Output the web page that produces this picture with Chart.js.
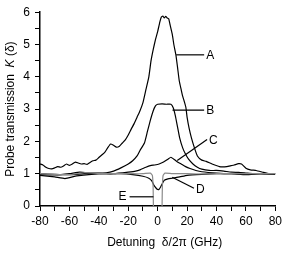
<!DOCTYPE html>
<html>
<head>
<meta charset="utf-8">
<script src="https://cdn.jsdelivr.net/npm/chart.js"></script>
<style>
    html, body { margin: 0; padding: 0; background: #fff; }
    canvas { display: block; }
</style>
</head>
<body>
<canvas id="chart" width="285" height="257"></canvas>
<script>
// Detuning (GHz) and transmission K for each trace
const aX = [-80, -78, -76, -74, -72, -70, -68, -66, -64, -62, -60, -58, -56, -54, -52, -50, -48, -46, -44, -42, -40, -38, -36, -34, -32, -30, -28, -26, -24, -22, -20, -18, -16, -14, -12, -10, -8, -6, -4.5, -3, -1.5, 0, 1.5, 2.5, 3.5, 4.5, 5.5, 6.5, 7.5, 8.5, 10, 11, 12.4, 13.5, 14.7, 16, 17, 18, 19.2, 20, 21.4, 23, 25, 27, 30, 33, 37, 42, 47, 50, 52, 55, 57, 60, 63, 67, 72, 76, 80];
const aY = [1.3, 1.27, 1.2, 1.16, 1.15, 1.18, 1.22, 1.2, 1.24, 1.3, 1.26, 1.3, 1.36, 1.33, 1.3, 1.31, 1.29, 1.35, 1.4, 1.42, 1.5, 1.58, 1.66, 1.8, 1.92, 1.88, 1.82, 1.85, 1.95, 2.05, 2.2, 2.38, 2.55, 2.75, 2.95, 3.2, 3.6, 4.0, 4.5, 4.85, 5.15, 5.4, 5.7, 5.85, 5.88, 5.82, 5.87, 5.82, 5.8, 5.6, 5.3, 5.0, 4.68, 4.3, 3.87, 3.6, 3.4, 3.25, 3.05, 2.75, 2.4, 2.1, 1.8, 1.55, 1.42, 1.38, 1.3, 1.22, 1.22, 1.25, 1.27, 1.31, 1.3, 1.17, 1.12, 1.1, 1.04, 1.0, 1.0];

const bX = [-80, -70, -60, -50, -40, -35, -30, -25, -20, -17, -14, -12, -9, -7, -5, -3, -1.5, 0, 3, 6, 9, 10.5, 12, 13.5, 15, 17, 19, 21, 24, 27, 30, 35, 40, 45, 50, 55, 60, 65, 70, 80];
const bY = [1.0, 0.98, 0.97, 1.0, 1.02, 1.03, 1.08, 1.18, 1.3, 1.4, 1.55, 1.72, 1.95, 2.3, 2.65, 2.95, 3.1, 3.15, 3.16, 3.15, 3.15, 3.05, 2.8, 2.45, 2.1, 1.8, 1.6, 1.45, 1.3, 1.2, 1.14, 1.1, 1.1, 1.08, 1.05, 1.04, 1.02, 1.0, 1.0, 1.0];

const cX = [-80, -70, -60, -53, -45, -35, -30, -20, -15, -12, -8, -5, -2, 1, 4, 7, 9, 11, 13, 16, 19, 22, 26, 30, 40, 50, 60, 70, 80];
const cY = [0.97, 0.96, 1.0, 1.05, 1.02, 1.0, 1.0, 1.05, 1.08, 1.12, 1.2, 1.25, 1.27, 1.3, 1.36, 1.45, 1.51, 1.45, 1.38, 1.3, 1.22, 1.16, 1.1, 1.06, 1.02, 1.0, 1.0, 1.0, 0.98];

const dX = [-80, -70, -63, -55, -45, -35, -25, -17, -10, -6, -4, -2.5, -1, 0, 1, 2, 3.5, 4.5, 7, 10, 15, 20, 30, 40, 50, 60, 70, 80];
const dY = [0.95, 0.9, 0.85, 0.93, 0.98, 1.0, 1.0, 0.97, 0.92, 0.86, 0.78, 0.64, 0.55, 0.51, 0.52, 0.59, 0.72, 0.8, 0.84, 0.86, 0.9, 0.95, 0.98, 1.0, 1.0, 0.97, 1.0, 1.0];

const eX = [-80, -70, -60, -50, -40, -30, -20, -10, -5, -3.6, -3.1, -2.9, -2.7, 0, 2.8, 3.0, 3.2, 3.7, 5, 10, 20, 30, 40, 50, 60, 70, 80];
const eY = [1.0, 0.98, 0.97, 1.03, 1.01, 1.0, 1.0, 1.0, 1.02, 0.95, 0.6, 0.0, -0.3, -0.3, -0.3, 0.0, 0.6, 0.95, 1.02, 1.0, 1.0, 0.99, 1.0, 1.01, 1.0, 1.0, 1.0];

const xTicks = [-80, -60, -40, -20, 0, 20, 40, 60, 80];
const yTicks = [0, 1, 2, 3, 4, 5, 6];

// label text, leader start, leader end (data units)
const labelNames = ['A', 'B', 'C', 'D', 'E'];
const labelFrom = [[12.6, 4.68], [10.1, 2.97], [13.3, 1.41], [9.9, 0.89], [-2.9, 0.285]];
const labelTo = [[31.6, 4.68], [31.6, 2.97], [33.6, 2.06], [24.7, 0.55], [-19.1, 0.285]];

const FONT = '"Liberation Sans", Arial, sans-serif';

const pts = (xs, ys) => xs.map((x, i) => ({ x: x, y: ys[i] }));

const trace = (name, xs, ys, color) => ({
    label: name,
    data: pts(xs, ys),
    borderColor: color,
    borderWidth: 1.2,
    pointRadius: 0,
    tension: 0.15,
    fill: false
});

const annotations = {
    id: 'annotations',
    afterDatasetsDraw(chart) {
        const ctx = chart.ctx;
        const xs = chart.scales.x;
        const ys = chart.scales.y;
        ctx.save();
        ctx.strokeStyle = '#000';
        ctx.lineWidth = 1.2;
        ctx.fillStyle = '#000';
        ctx.font = '12px ' + FONT;
        ctx.textBaseline = 'middle';
        labelNames.forEach((name, i) => {
            const x1 = xs.getPixelForValue(labelFrom[i][0]);
            const y1 = ys.getPixelForValue(labelFrom[i][1]);
            const x2 = xs.getPixelForValue(labelTo[i][0]);
            const y2 = ys.getPixelForValue(labelTo[i][1]);
            ctx.beginPath();
            ctx.moveTo(x1, y1);
            ctx.lineTo(x2, y2);
            ctx.stroke();
            if (x2 < x1) {
                ctx.textAlign = 'right';
                ctx.fillText(name, x2 - 3, y2);
            } else {
                ctx.textAlign = 'left';
                ctx.fillText(name, x2 + 2, y2 + 1);
            }
        });

        // axis titles
        const area = chart.chartArea;
        ctx.textAlign = 'left';
        const xParts = [['Detuning  ', ''], ['δ', ''], ['/2π (GHz)', '']];
        drawParts(ctx, xParts, (area.left + area.right) / 2 + 7, 243);

        ctx.translate(11, (area.top + area.bottom) / 2);
        ctx.rotate(-Math.PI / 2);
        const yParts = [['Probe transmission  ', ''], ['K', 'italic '], [' (δ)', '']];
        drawParts(ctx, yParts, 0, 0);
        ctx.restore();
    }
};

function drawParts(ctx, parts, cx, cy) {
    let total = 0;
    parts.forEach(p => {
        ctx.font = p[1] + '12px ' + FONT;
        total += ctx.measureText(p[0]).width;
    });
    let x = cx - total / 2;
    parts.forEach(p => {
        ctx.font = p[1] + '12px ' + FONT;
        ctx.fillText(p[0], x, cy);
        x += ctx.measureText(p[0]).width;
    });
}

new Chart(document.getElementById('chart'), {
    type: 'line',
    data: {
        datasets: [
            trace('E', eX, eY, '#8a8a8a'),
            trace('D', dX, dY, '#000'),
            trace('C', cX, cY, '#000'),
            trace('B', bX, bY, '#000'),
            trace('A', aX, aY, '#000')
        ]
    },
    options: {
        responsive: false,
        animation: false,
        layout: { padding: { left: 0, right: 8, top: 10, bottom: 0 } },
        plugins: {
            legend: { display: false },
            tooltip: { enabled: false }
        },
        scales: {
            x: {
                type: 'linear',
                min: -80,
                max: 80,
                afterFit: s => { s.height = 51; },
                ticks: {
                    stepSize: 10,
                    autoSkip: false,
                    maxRotation: 0,
                    padding: 3,
                    color: '#000',
                    font: { family: FONT, size: 12 },
                    callback: v => xTicks.includes(v) ? String(v) : ''
                },
                grid: { drawOnChartArea: false, tickLength: 5, color: '#000', lineWidth: 1 },
                border: { color: '#000', width: 1.5 }
            },
            y: {
                min: 0,
                max: 6,
                afterFit: s => { s.width = 40; },
                ticks: {
                    stepSize: 0.5,
                    autoSkip: false,
                    padding: 5,
                    color: '#000',
                    font: { family: FONT, size: 12 },
                    callback: v => yTicks.includes(v) ? String(v) : ''
                },
                grid: { drawOnChartArea: false, tickLength: 5, color: '#000', lineWidth: 1 },
                border: { color: '#000', width: 1.5 }
            }
        }
    },
    plugins: [annotations]
});
</script>
</body>
</html>
